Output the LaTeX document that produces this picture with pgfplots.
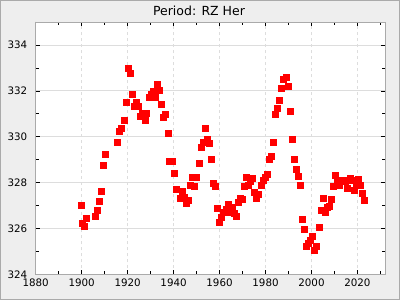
\documentclass[border=0pt]{standalone}
\usepackage{pgfplots}
\pgfplotsset{compat=1.18}
\usepackage{fontspec}
\setmainfont{DejaVu Sans}
\definecolor{bgc}{HTML}{EEEEEE}
\definecolor{frc}{HTML}{AAAAAA}
\definecolor{gridc}{HTML}{DDDDDD}
\begin{document}
\begin{tikzpicture}[x=1bp,y=1bp]
\fill[bgc] (0,0) rectangle (400,300);
\draw[frc, line width=1bp] (0.5,0.5) rectangle (399.5,299.5);
\node[font=\fontsize{12.5bp}{14bp}\selectfont] at (199,289.5) {Period: RZ Her};
\begin{axis}[
  at={(35.7bp,25.7bp)}, anchor=south west,
  scale only axis, width=349.3bp, height=252.3bp,
  xmin=1880, xmax=2032, ymin=324, ymax=335,
  xtick distance=20, ytick distance=2,
  minor x tick num=1, minor y tick num=1,
  tick align=inside,
  major tick length=4bp, minor tick length=3bp,
  tick style={black, line width=0.6bp},
  axis line style={frc, line width=0.8bp},
  axis background/.style={fill=white},
  xmajorgrids, ymajorgrids,
  x grid style={gridc, dashed, line width=0.8bp},
  y grid style={gridc, line width=0.8bp},
  x tick label style={font=\fontsize{10.3bp}{12bp}\selectfont, yshift=-1bp},
  y tick label style={font=\fontsize{10.3bp}{12bp}\selectfont, xshift=-5bp},
  /pgf/number format/assume math mode=true,
  /pgf/number format/1000 sep={},
]
\addplot[only marks, mark=square*, mark size=3bp, mark options={fill=red, draw=red}, draw=red] table {
x y
1899.9 327.0
1900.3 326.22
1901.2 326.09
1902.0 326.43
1905.9 326.52
1906.8 326.78
1907.7 327.17
1908.6 327.61
1909.4 328.74
1910.3 329.22
1915.5 329.78
1916.4 330.26
1917.3 330.35
1918.6 330.74
1919.4 331.52
1920.3 333.0
1921.2 332.78
1922.1 331.87
1922.9 331.35
1923.8 331.52
1924.7 331.35
1925.5 330.91
1926.4 331.04
1927.7 330.74
1928.1 331.04
1929.5 331.7
1930.3 331.87
1931.2 332.0
1932.1 331.74
1932.9 332.3
1933.8 332.04
1934.7 331.43
1935.6 330.87
1936.4 330.96
1937.7 330.17
1938.2 328.91
1939.5 328.91
1940.3 328.39
1941.2 327.7
1942.9 327.3
1943.8 327.61
1944.7 327.35
1945.6 327.09
1946.4 327.22
1947.2 327.87
1948.2 328.22
1949.0 327.83
1949.9 328.22
1951.2 328.83
1952.1 329.52
1953.0 329.78
1953.8 330.39
1954.7 329.91
1955.6 329.7
1956.4 329.0
1957.3 327.96
1958.2 327.83
1959.1 326.87
1959.9 326.26
1960.8 326.48
1961.7 326.7
1963.0 326.85
1963.9 327.04
1964.7 326.7
1965.6 326.91
1966.5 326.65
1967.4 326.52
1968.2 327.13
1969.1 327.3
1969.9 327.26
1970.8 327.83
1971.7 328.22
1972.5 327.87
1973.4 328.04
1974.3 328.17
1975.2 327.57
1976.0 327.3
1976.9 327.48
1978.2 327.87
1979.1 328.09
1980.0 328.22
1980.8 328.35
1981.7 329.04
1982.6 329.13
1983.4 329.78
1984.3 330.96
1985.2 331.26
1986.0 331.6
1986.9 332.13
1987.8 332.52
1989.1 332.61
1990.0 332.22
1990.8 331.13
1991.7 329.87
1992.6 329.04
1993.4 328.6
1994.3 328.26
1995.2 327.87
1996.1 326.39
1996.9 325.96
1997.8 325.22
1998.7 325.35
1999.5 325.48
2000.4 325.65
2001.3 325.04
2002.2 325.22
2003.5 326.04
2004.3 326.78
2005.2 327.3
2006.1 326.7
2006.9 326.91
2007.8 326.96
2008.7 327.26
2009.6 327.83
2010.4 328.3
2011.3 328.0
2012.2 327.87
2013.0 328.09
2013.9 328.09
2014.8 328.04
2015.7 327.74
2017.0 328.17
2017.8 328.09
2018.7 327.65
2019.6 327.96
2020.4 328.13
2021.3 327.87
2022.2 327.52
2023.0 327.22
};
\end{axis}
\end{tikzpicture}
\end{document}
